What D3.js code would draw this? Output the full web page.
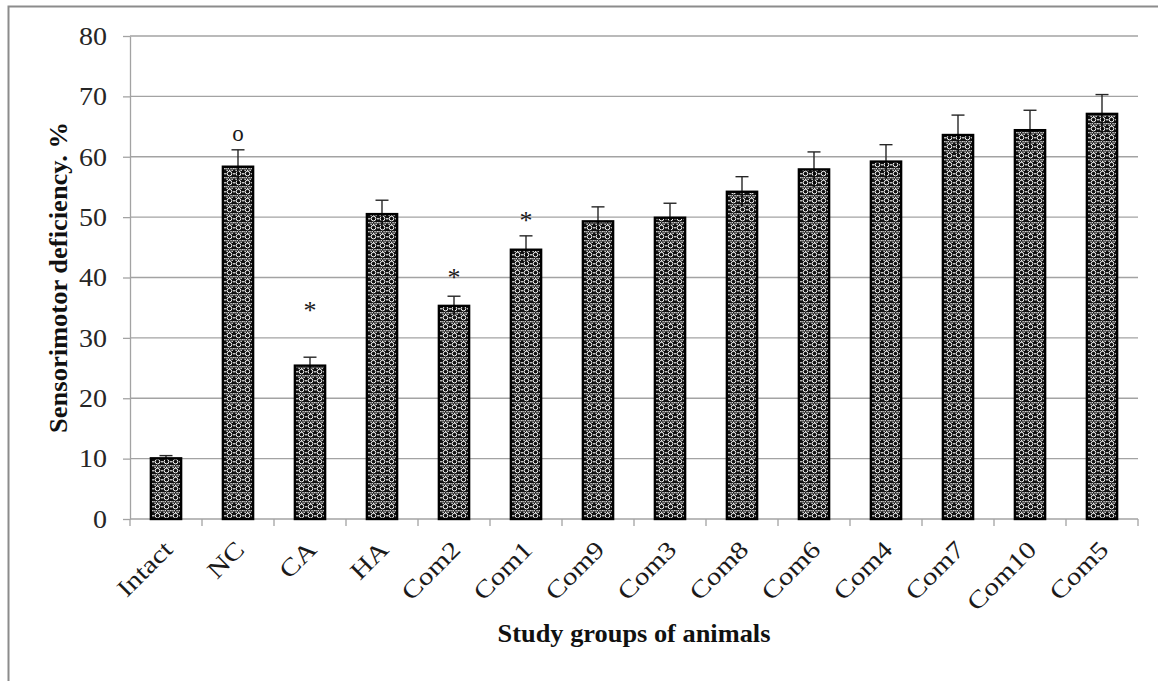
<!DOCTYPE html>
<html>
<head>
<meta charset="utf-8">
<script src="https://cdn.jsdelivr.net/npm/d3@7"></script>
<style>
  body { margin: 0; background: #fff; }
  svg { display: block; }
</style>
</head>
<body>
<div id="chart"></div>
<script>
// data
var groups = ["Intact", "NC", "CA", "HA", "Com2", "Com1", "Com9", "Com3", "Com8", "Com6", "Com4", "Com7", "Com10", "Com5"];
var means  = [10.05, 58.35, 25.4, 50.5, 35.3, 44.6, 49.3, 49.9, 54.2, 57.9, 59.2, 63.6, 64.4, 67.1];
var errs   = [0.45, 2.8, 1.4, 2.3, 1.6, 2.3, 2.4, 2.4, 2.5, 2.9, 2.8, 3.3, 3.3, 3.2];
var yTicks = [0, 10, 20, 30, 40, 50, 60, 70, 80];
var markGroups  = ["NC", "CA", "Com2", "Com1"];
var markSymbols = ["o", "*", "*", "*"];
var markValues  = [63.7, 35.3, 40.7, 50.2];

var W = 1158, H = 681;
var plot = { left: 130, right: 1138, top: 36, bottom: 519 };
var serif = "'Liberation Serif', 'Times New Roman', Tinos, Times, serif";

var svg = d3.select("#chart")
  .append("svg")
  .attr("width", W)
  .attr("height", H);

// how wide a string comes out in the font we actually got
function measure(str, size, weight) {
  var t = svg.append("text")
    .style("font-family", serif)
    .style("font-size", size + "px")
    .style("font-weight", weight || "normal")
    .text(str);
  var w = t.node().getComputedTextLength();
  t.remove();
  return w;
}
// horizontal squeeze so text widths match the original picture
var kTick  = 28 / measure("70", 24.5);
var kLabel = 67 / measure("Intact", 24.5);
var kXT    = 273 / measure("Study groups of animals", 25, "bold");
var kYT    = 311 / measure("Sensorimotor deficiency. %", 25, "bold");

// outer frame
svg.append("rect")
  .attr("x", 8.5).attr("y", 6.5)
  .attr("width", 1300).attr("height", 1000)
  .attr("fill", "none")
  .attr("stroke", "#8c8c8c")
  .attr("stroke-width", 2);

// fill pattern of the bars
var defs = svg.append("defs");
var pat = defs.append("pattern")
  .attr("id", "lattice")
  .attr("patternUnits", "userSpaceOnUse")
  .attr("width", 9).attr("height", 9);
pat.append("rect").attr("width", 9).attr("height", 9).attr("fill", "#111");
pat.append("circle")
  .attr("cx", 4.5).attr("cy", 2.6).attr("r", 2.3)
  .attr("fill", "none").attr("stroke", "#f6f6f6").attr("stroke-width", 1);
[[0.4, 6], [2.6, 6], [5.4, 6], [7.6, 6], [1.5, 7.7], [4, 7.7], [6.5, 7.7], [0.1, 2.1], [8.1, 2.1]].forEach(function(p) {
  pat.append("rect")
    .attr("x", p[0]).attr("y", p[1])
    .attr("width", 1.3).attr("height", 1.3)
    .attr("fill", "#ececec");
});

var x = d3.scaleBand()
  .domain(groups)
  .range([plot.left, plot.right])
  .paddingInner(0.58)
  .paddingOuter(0.29);

var y = d3.scaleLinear()
  .domain([0, 80])
  .range([plot.bottom, plot.top]);

function cx(g) { return x(g) + x.bandwidth() / 2; }

// gridlines
svg.append("g")
  .selectAll("line")
  .data(yTicks.slice(1))
  .enter()
  .append("line")
  .attr("x1", plot.left).attr("x2", plot.right)
  .attr("y1", function(d) { return y(d); })
  .attr("y2", function(d) { return y(d); })
  .attr("stroke", "#a3a3a3")
  .attr("stroke-width", 1.3);

// y axis
var yAxis = svg.append("g")
  .attr("transform", "translate(" + plot.left + ",0)")
  .call(d3.axisLeft(y).tickValues(yTicks).tickSize(7).tickSizeOuter(0));
yAxis.select(".domain").attr("stroke", "#a3a3a3").attr("stroke-width", 1.3);
yAxis.selectAll(".tick line").attr("stroke", "#a3a3a3").attr("stroke-width", 1.3);
yAxis.selectAll(".tick text")
  .attr("x", 0)
  .attr("dy", "0.34em")
  .attr("transform", "translate(-23,0) scale(" + kTick + ",1)")
  .attr("fill", "#262626")
  .style("font-family", serif)
  .style("font-size", "24.5px");

// x axis: line plus ticks on the category boundaries
var bounds = d3.range(groups.length + 1).map(function(i) { return plot.left + i * (plot.right - plot.left) / groups.length; });
var xAxis = svg.append("g");
xAxis.append("line")
  .attr("x1", plot.left).attr("x2", plot.right)
  .attr("y1", plot.bottom).attr("y2", plot.bottom)
  .attr("stroke", "#a3a3a3").attr("stroke-width", 1.3);
xAxis.selectAll(".xt")
  .data(bounds)
  .enter()
  .append("line")
  .attr("class", "xt")
  .attr("x1", function(d) { return d; }).attr("x2", function(d) { return d; })
  .attr("y1", plot.bottom).attr("y2", plot.bottom + 7)
  .attr("stroke", "#a3a3a3").attr("stroke-width", 1.3);
xAxis.selectAll(".xl")
  .data(groups)
  .enter()
  .append("text")
  .attr("class", "xl")
  .attr("transform", function(d) { return "translate(" + (cx(d) + 8) + "," + (plot.bottom + 32) + ") rotate(-45) scale(" + kLabel + ",1)"; })
  .attr("text-anchor", "end")
  .attr("fill", "#1a1a1a")
  .style("font-family", serif)
  .style("font-size", "24.5px")
  .text(function(d) { return d; });

// error bars
var eb = svg.append("g")
  .selectAll("g")
  .data(groups)
  .enter()
  .append("g");
eb.append("line")
  .attr("x1", function(d) { return cx(d); }).attr("x2", function(d) { return cx(d); })
  .attr("y1", function(d, i) { return y(means[i]); })
  .attr("y2", function(d, i) { return y(means[i] + errs[i]); })
  .attr("stroke", "#262626").attr("stroke-width", 1.4);
eb.append("line")
  .attr("x1", function(d) { return cx(d) - 6.5; }).attr("x2", function(d) { return cx(d) + 6.5; })
  .attr("y1", function(d, i) { return y(means[i] + errs[i]); })
  .attr("y2", function(d, i) { return y(means[i] + errs[i]); })
  .attr("stroke", "#262626").attr("stroke-width", 1.4);

// bars
svg.append("g")
  .selectAll("rect")
  .data(groups)
  .enter()
  .append("rect")
  .attr("x", function(d) { return x(d); })
  .attr("width", x.bandwidth())
  .attr("y", function(d, i) { return y(means[i]); })
  .attr("height", function(d, i) { return y(0) - y(means[i]); })
  .attr("fill", "url(#lattice)")
  .attr("stroke", "#000")
  .attr("stroke-width", 2.4);

// lower half of the error bars, dark over the pattern
svg.append("g")
  .selectAll("line")
  .data(groups)
  .enter()
  .append("line")
  .attr("x1", function(d) { return cx(d); }).attr("x2", function(d) { return cx(d); })
  .attr("y1", function(d, i) { return y(means[i]); })
  .attr("y2", function(d, i) { return y(means[i] - errs[i]); })
  .attr("stroke", "#000").attr("stroke-width", 1.5);

// significance marks
svg.append("g")
  .selectAll("text")
  .data(markGroups)
  .enter()
  .append("text")
  .attr("transform", function(d, i) { return "translate(" + cx(d) + "," + y(markValues[i]) + ")"; })
  .attr("text-anchor", "middle")
  .attr("dy", function(d, i) { return markSymbols[i] == "*" ? "0.5em" : "0.28em"; })
  .attr("fill", "#1a1a1a")
  .style("font-family", serif)
  .style("font-size", function(d, i) { return markSymbols[i] == "*" ? "26px" : "23px"; })
  .text(function(d, i) { return markSymbols[i]; });

// axis titles
svg.append("text")
  .attr("transform", "translate(" + (plot.left + plot.right) / 2 + ",642) scale(" + kXT + ",1)")
  .attr("text-anchor", "middle")
  .attr("fill", "#111")
  .style("font-family", serif)
  .style("font-weight", "bold")
  .style("font-size", "25px")
  .text("Study groups of animals");

svg.append("text")
  .attr("transform", "translate(67," + (plot.top + plot.bottom) / 2 + ") rotate(-90) scale(" + kYT + ",1)")
  .attr("text-anchor", "middle")
  .attr("fill", "#111")
  .style("font-family", serif)
  .style("font-weight", "bold")
  .style("font-size", "25px")
  .text("Sensorimotor deficiency. %");
</script>
</body>
</html>
